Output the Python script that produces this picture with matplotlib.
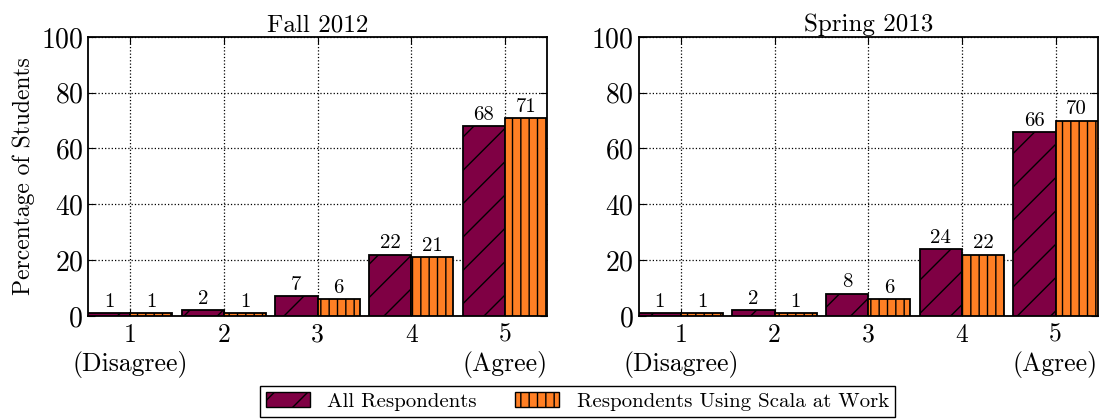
import matplotlib
matplotlib.use('Agg')
import numpy as np
import matplotlib.pyplot as plt
from matplotlib.patches import Patch

plt.rcParams['font.family'] = ['cmr10', 'DejaVu Serif']
plt.rcParams['axes.formatter.use_mathtext'] = True
plt.rcParams['hatch.linewidth'] = 1.0

categories = ['1\n(Disagree)', '2', '3', '4', '5\n(Agree)']
titles = ['Fall 2012', 'Spring 2013']
all_resp = [[1, 2, 7, 22, 68], [1, 2, 8, 24, 66]]
scala_work = [[1, 1, 6, 21, 71], [1, 1, 6, 22, 70]]
series_names = ['All Respondents', 'Respondents Using Scala at Work']

maroon = '#7f0044'
orange = '#ff7f24'

fig, axes = plt.subplots(1, 2, figsize=(11.01, 4.19), dpi=100)
fig.subplots_adjust(left=0.08, right=0.997, top=0.912, bottom=0.246, wspace=0.2)

x = np.arange(1, 6)
w = 0.45
for i, ax in enumerate(axes):
    b1 = ax.bar(x - w / 2, all_resp[i], w, color=maroon, edgecolor='black',
                hatch='/', linewidth=1.3, zorder=3)
    b2 = ax.bar(x + w / 2, scala_work[i], w, color=orange, edgecolor='black',
                hatch='||', linewidth=1.3, zorder=3)
    for bars in (b1, b2):
        for r in bars:
            ax.text(r.get_x() + r.get_width() / 2, r.get_height() + 0.8,
                    '%d' % r.get_height(), ha='center', va='bottom', fontsize=15)
    ax.set_xlim(1 - w, 5 + w)
    ax.set_ylim(0, 100)
    ax.set_yticks([0, 20, 40, 60, 80, 100])
    ax.set_xticks(x)
    ax.set_xticklabels(categories)
    ax.tick_params(direction='in', top=True, right=True, length=5)
    ax.tick_params(axis='y', labelsize=20)
    ax.tick_params(axis='x', labelsize=18.5, pad=5)
    ax.grid(True, color='black', linestyle=':', linewidth=0.9, zorder=0)
    ax.set_axisbelow(True)
    ax.set_title(titles[i], fontsize=18, pad=4)
    for s in ax.spines.values():
        s.set_linewidth(1.3)

axes[0].set_ylabel('Percentage of Students', fontsize=17, labelpad=4)

handles = [Patch(facecolor=maroon, edgecolor='black', hatch='/'),
           Patch(facecolor=orange, edgecolor='black', hatch='||')]
leg = fig.legend(handles, series_names, loc='lower center', ncol=2,
                 bbox_to_anchor=(0.5245, 0.0), fontsize=15, fancybox=False,
                 edgecolor='black', framealpha=1, handlelength=2.1,
                 handleheight=0.75, handletextpad=0.85,
                 columnspacing=1.85, borderpad=0.3, borderaxespad=0.1)
leg.get_frame().set_linewidth(1.0)

fig.savefig('out.png', dpi=100)
